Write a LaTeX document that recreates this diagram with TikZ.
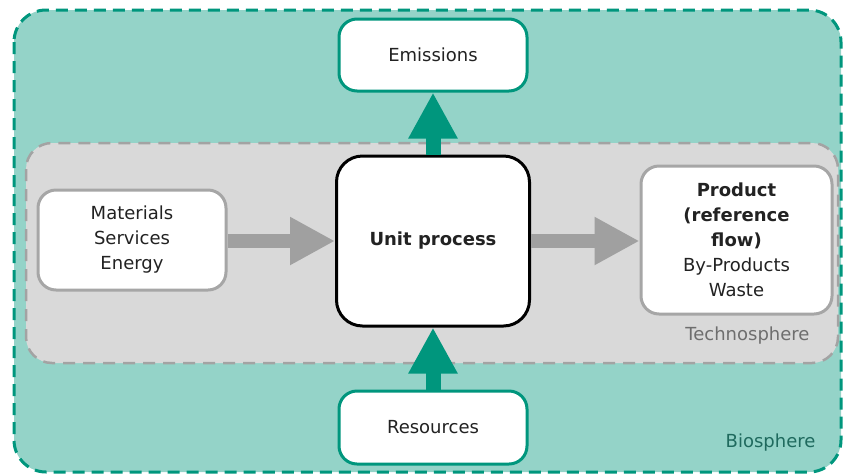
\documentclass[tikz,border=0pt]{standalone}
\usepackage{fontspec}
\setmainfont{DejaVu Sans}
\usetikzlibrary{arrows.meta}
\definecolor{biobg}{HTML}{94D3C8}
\definecolor{teal}{HTML}{00967D}
\definecolor{techbg}{HTML}{D9D9D9}
\definecolor{techline}{HTML}{A3A3A3}
\definecolor{flowgray}{HTML}{A0A0A0}
\definecolor{boxgray}{HTML}{A6A6A6}
\definecolor{txt}{HTML}{222222}
\definecolor{biotxt}{HTML}{1F6A5E}
\definecolor{techtxt}{HTML}{6E6E6E}
\begin{document}
\begin{tikzpicture}[x=1pt,y=-1pt,
  every node/.style={font=\fontsize{18}{25}\selectfont, text=txt, align=center},
  box/.style={rectangle, rounded corners=18pt, fill=white, line width=3pt, inner sep=0pt},
  tealbox/.style={box, draw=teal},
  graybox/.style={box, draw=boxgray},
  mainbox/.style={box, draw=black, rounded corners=26pt},
  tealflow/.style={teal, line width=15pt, -{Triangle[length=46pt,width=46pt]}},
  grayflow/.style={flowgray, line width=14pt, -{Triangle[length=45pt,width=45pt]}}
]
\useasboundingbox (0,0) rectangle (844,475);
% biosphere
\draw[fill=biobg, draw=teal, line width=3pt, dash pattern=on 12pt off 7pt, rounded corners=32pt]
  (14,10) rectangle (841,472);
% technosphere
\draw[fill=techbg, draw=techline, line width=2.5pt, dash pattern=on 12pt off 8pt, rounded corners=26pt]
  (26,143) rectangle (838,363);

\node[tealbox, minimum width=188pt, minimum height=72pt] (emis) at (433,55) {Emissions};
\node[tealbox, minimum width=188pt, minimum height=73pt] (res) at (433,427.5) {Resources};
\node[mainbox, minimum width=193pt, minimum height=170pt] (unit) at (433,241) {\bfseries Unit process};
\node[graybox, minimum width=188pt, minimum height=100pt] (mat) at (132,240) {Materials\\Services\\Energy};
\node[graybox, minimum width=191pt, minimum height=148pt] (prod) at (736.5,240)
  {\bfseries Product\\\bfseries (reference\\\bfseries flow)\\By-Products\\Waste};

\node[text=techtxt, anchor=base east] (techlbl) at (813,340) {Technosphere};
\node[text=biotxt, anchor=base east] (biolbl) at (819,447) {Biosphere};

\draw[tealflow] (unit.north) -- (emis.south);
\draw[tealflow] (res.north) -- (unit.south);
\draw[grayflow] (mat.east |- unit.west) -- (unit.west);
\draw[grayflow] (unit.east) -- (prod.west |- unit.east);
\end{tikzpicture}
\end{document}
